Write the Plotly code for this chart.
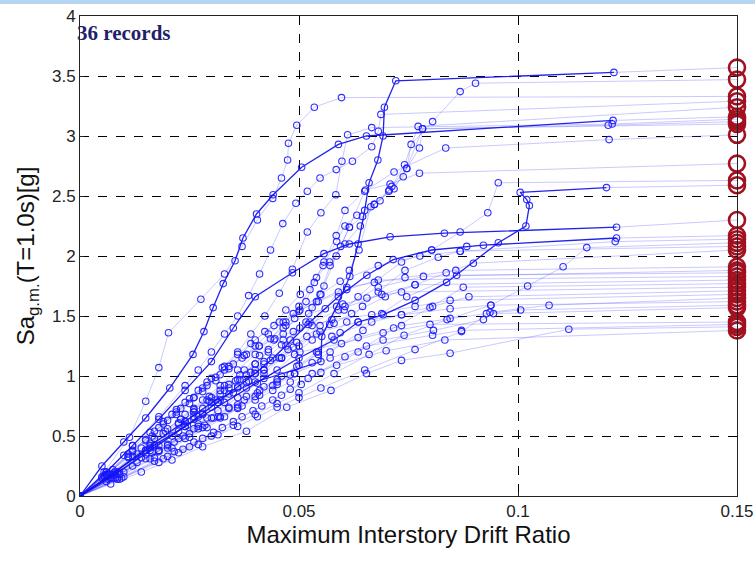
import plotly.graph_objects as go

# ---- IDA curves: maximum interstory drift ratio vs Sa (one list pair per record) ----
drift_01 = [0, 0.008, 0.016, 0.024, 0.031, 0.040, 0.055, 0.0552, 0.0586, 0.0616, 0.0635, 0.065, 0.066, 0.068, 0.0692, 0.0695, 0.0721, 0.1219]
sa_01 = [0, 0.20, 0.42, 0.62, 0.80, 0.95, 1.12, 1.33, 1.58, 1.83, 2.10, 2.38, 2.61, 2.80, 3.00, 3.24, 3.46, 3.53]

drift_02 = [0, 0.006, 0.012, 0.019, 0.026, 0.033, 0.040, 0.0443, 0.047, 0.0503, 0.054, 0.057, 0.0605, 0.064, 0.0672, 0.0717, 0.0746, 0.0756, 0.0805, 0.0868, 0.0903]
sa_02 = [0, 0.18, 0.38, 0.60, 0.82, 1.05, 1.30, 1.42, 1.55, 1.68, 1.82, 1.95, 2.10, 2.25, 2.43, 2.56, 2.73, 2.93, 3.12, 3.37, 3.44]

drift_03 = [0, 0.0055, 0.0113, 0.015, 0.018, 0.0202, 0.0276, 0.033, 0.037, 0.0405, 0.044, 0.046, 0.0474, 0.0476, 0.0495, 0.0535, 0.0597]
sa_03 = [0, 0.20, 0.49, 0.79, 1.07, 1.36, 1.64, 1.85, 2.08, 2.30, 2.48, 2.65, 2.80, 2.94, 3.09, 3.24, 3.32]

drift_04 = [0, 0.006, 0.012, 0.018, 0.024, 0.027, 0.030, 0.033, 0.036, 0.0385, 0.041, 0.0435, 0.0463, 0.0493, 0.0519, 0.0548, 0.0585, 0.0622, 0.0666, 0.0681, 0.0687]
sa_04 = [0, 0.20, 0.42, 0.66, 0.92, 1.05, 1.20, 1.35, 1.50, 1.67, 1.85, 2.05, 2.27, 2.44, 2.54, 2.65, 2.72, 2.79, 2.91, 3.04, 3.18]

drift_05 = [0, 0.008, 0.016, 0.024, 0.028, 0.032, 0.036, 0.040, 0.0435, 0.047, 0.050, 0.0525, 0.0555, 0.0586, 0.0605, 0.0632, 0.0685, 0.0712, 0.0741, 0.0772]
sa_05 = [0, 0.20, 0.44, 0.68, 0.80, 0.92, 1.05, 1.18, 1.31, 1.45, 1.58, 1.72, 1.92, 2.12, 2.25, 2.34, 2.46, 2.58, 2.76, 3.08]

drift_06 = [0, 0.009, 0.018, 0.027, 0.0315, 0.036, 0.040, 0.044, 0.048, 0.0516, 0.0548, 0.0571, 0.0595, 0.0615, 0.0645, 0.0672, 0.0705, 0.0738, 0.0782, 0.1206]
sa_06 = [0, 0.20, 0.42, 0.66, 0.78, 0.90, 1.02, 1.15, 1.30, 1.45, 1.68, 1.92, 2.08, 2.24, 2.33, 2.43, 2.54, 2.66, 3.06, 3.09]

drift_07 = [0, 0.005, 0.010, 0.015, 0.0205, 0.0258, 0.0283, 0.0304, 0.0327, 0.0354, 0.0372, 0.0403, 0.0441, 0.0506, 0.059, 0.0654, 0.1217]
sa_07 = [0, 0.25, 0.45, 0.65, 0.90, 1.18, 1.37, 1.57, 1.77, 1.96, 2.15, 2.35, 2.51, 2.74, 2.93, 3.00, 3.13]

drift_08 = [0, 0.0075, 0.015, 0.022, 0.029, 0.0325, 0.036, 0.039, 0.0422, 0.0455, 0.0485, 0.0519, 0.055, 0.0584, 0.0598, 0.0611, 0.0666, 0.1215]
sa_08 = [0, 0.22, 0.46, 0.70, 0.95, 1.07, 1.20, 1.35, 1.50, 1.69, 1.89, 2.20, 2.36, 2.51, 2.79, 3.01, 3.07, 3.10]

drift_09 = [0, 0.010, 0.020, 0.029, 0.038, 0.042, 0.046, 0.0495, 0.053, 0.056, 0.059, 0.0615, 0.0637, 0.0664, 0.0706, 0.0746, 0.0775, 0.0782]
sa_09 = [0, 0.20, 0.42, 0.65, 0.90, 1.02, 1.15, 1.28, 1.42, 1.56, 1.70, 1.88, 2.05, 2.41, 2.55, 2.73, 2.90, 3.06]

drift_10 = [0, 0.0085, 0.017, 0.026, 0.030, 0.034, 0.038, 0.042, 0.046, 0.0502, 0.053, 0.0557, 0.0585, 0.0615, 0.065, 0.0717, 0.0835, 0.1208]
sa_10 = [0, 0.20, 0.42, 0.66, 0.78, 0.90, 1.01, 1.12, 1.26, 1.40, 1.57, 1.75, 2.00, 2.24, 2.54, 2.70, 2.90, 2.97]

drift_11 = [0, 0.008, 0.016, 0.024, 0.028, 0.032, 0.036, 0.040, 0.043, 0.0464, 0.049, 0.0516, 0.0535, 0.0557, 0.0585, 0.0605, 0.0652, 0.0708, 0.0775]
sa_11 = [0, 0.18, 0.40, 0.62, 0.73, 0.85, 0.97, 1.10, 1.22, 1.35, 1.48, 1.62, 1.78, 1.95, 2.17, 2.38, 2.55, 2.60, 2.69]

drift_12 = [0, 0.009, 0.018, 0.027, 0.0315, 0.036, 0.0405, 0.045, 0.049, 0.053, 0.057, 0.0603, 0.0635, 0.0672, 0.0734, 0.0803, 0.0868, 0.0931, 0.0955]
sa_12 = [0, 0.18, 0.38, 0.60, 0.71, 0.82, 0.94, 1.05, 1.18, 1.30, 1.43, 1.55, 1.66, 1.78, 1.95, 2.05, 2.20, 2.36, 2.61]

drift_13 = [0, 0.007, 0.015, 0.024, 0.033, 0.042, 0.050, 0.058, 0.0635, 0.0692, 0.0765, 0.0837, 0.0955, 0.1018, 0.1026, 0.1020, 0.1005, 0.1202]
sa_13 = [0, 0.18, 0.38, 0.58, 0.78, 0.98, 1.15, 1.30, 1.45, 1.51, 1.63, 1.78, 2.11, 2.25, 2.42, 2.47, 2.53, 2.57]

drift_14 = [0, 0.006, 0.012, 0.018, 0.024, 0.030, 0.035, 0.040, 0.0485, 0.0557, 0.0615, 0.0708, 0.0832, 0.1225]
sa_14 = [0, 0.20, 0.42, 0.64, 0.88, 1.12, 1.40, 1.66, 1.86, 2.02, 2.10, 2.16, 2.19, 2.24]

drift_15 = [0, 0.008, 0.016, 0.024, 0.028, 0.032, 0.036, 0.040, 0.0435, 0.047, 0.0525, 0.059, 0.0655, 0.0715, 0.0803, 0.0883, 0.0921, 0.1225]
sa_15 = [0, 0.18, 0.38, 0.58, 0.69, 0.80, 0.91, 1.02, 1.13, 1.25, 1.45, 1.66, 1.84, 1.97, 2.05, 2.08, 2.09, 2.15]

drift_16 = [0, 0.009, 0.018, 0.027, 0.0315, 0.036, 0.0405, 0.045, 0.0495, 0.054, 0.0575, 0.0609, 0.0645, 0.0681, 0.0742, 0.0818, 0.0868, 0.1222]
sa_16 = [0, 0.18, 0.37, 0.56, 0.66, 0.76, 0.86, 0.97, 1.08, 1.20, 1.33, 1.45, 1.58, 1.70, 1.88, 1.99, 2.04, 2.12]

drift_17 = [0, 0.010, 0.020, 0.025, 0.030, 0.035, 0.040, 0.045, 0.050, 0.058, 0.066, 0.074, 0.0838, 0.0938, 0.1022, 0.1103, 0.1157]
sa_17 = [0, 0.16, 0.33, 0.41, 0.50, 0.59, 0.68, 0.77, 0.86, 1.02, 1.18, 1.34, 1.47, 1.59, 1.75, 1.91, 2.07]

drift_18 = [0, 0.0075, 0.015, 0.0225, 0.026, 0.030, 0.034, 0.0375, 0.041, 0.0443, 0.047, 0.0502, 0.055, 0.0594, 0.0681, 0.0776, 0.0868]
sa_18 = [0, 0.18, 0.38, 0.60, 0.70, 0.82, 0.93, 1.05, 1.17, 1.30, 1.42, 1.55, 1.68, 1.79, 1.92, 2.00, 2.04]

drift_19 = [0, 0.0075, 0.015, 0.0225, 0.026, 0.030, 0.034, 0.038, 0.042, 0.046, 0.050, 0.054, 0.058, 0.062, 0.0697, 0.0765, 0.0836, 0.0898]
sa_19 = [0, 0.17, 0.35, 0.54, 0.64, 0.74, 0.85, 0.95, 1.05, 1.15, 1.25, 1.35, 1.44, 1.52, 1.66, 1.76, 1.86, 1.94]

drift_20 = [0, 0.0055, 0.011, 0.0165, 0.022, 0.025, 0.028, 0.031, 0.034, 0.037, 0.040, 0.043, 0.0464, 0.050, 0.054, 0.0609, 0.0742, 0.0858]
sa_20 = [0, 0.16, 0.33, 0.50, 0.68, 0.77, 0.87, 0.96, 1.06, 1.15, 1.25, 1.35, 1.45, 1.54, 1.62, 1.74, 1.82, 1.88]

drift_21 = [0, 0.007, 0.014, 0.021, 0.0245, 0.028, 0.0315, 0.035, 0.0385, 0.042, 0.0455, 0.0487, 0.0518, 0.0548, 0.0605, 0.0681, 0.0784]
sa_21 = [0, 0.15, 0.32, 0.50, 0.59, 0.68, 0.78, 0.86, 0.96, 1.05, 1.15, 1.24, 1.33, 1.42, 1.58, 1.74, 1.83]

drift_22 = [0, 0.0085, 0.017, 0.021, 0.025, 0.029, 0.033, 0.037, 0.041, 0.045, 0.049, 0.053, 0.0571, 0.0646, 0.0689, 0.0746, 0.086]
sa_22 = [0, 0.15, 0.32, 0.40, 0.49, 0.57, 0.66, 0.75, 0.84, 0.93, 1.02, 1.11, 1.20, 1.38, 1.52, 1.66, 1.84]

drift_23 = [0, 0.006, 0.012, 0.015, 0.018, 0.021, 0.024, 0.027, 0.030, 0.033, 0.036, 0.039, 0.0422, 0.0455, 0.0487, 0.0544, 0.0609, 0.0681]
sa_23 = [0, 0.18, 0.37, 0.47, 0.57, 0.68, 0.78, 0.88, 0.98, 1.08, 1.18, 1.27, 1.37, 1.45, 1.52, 1.62, 1.72, 1.80]

drift_24 = [0, 0.0065, 0.013, 0.0195, 0.023, 0.026, 0.0295, 0.033, 0.0365, 0.040, 0.043, 0.0464, 0.0521, 0.059, 0.0689, 0.0765]
sa_24 = [0, 0.17, 0.35, 0.54, 0.64, 0.73, 0.83, 0.92, 1.01, 1.10, 1.20, 1.30, 1.43, 1.55, 1.68, 1.76]

drift_25 = [0, 0.0095, 0.019, 0.0235, 0.028, 0.0325, 0.037, 0.0415, 0.046, 0.0505, 0.055, 0.0635, 0.0716, 0.0799, 0.0875]
sa_25 = [0, 0.15, 0.31, 0.39, 0.48, 0.57, 0.66, 0.75, 0.84, 0.93, 1.03, 1.20, 1.40, 1.57, 1.74]

drift_26 = [0, 0.005, 0.010, 0.016, 0.019, 0.022, 0.025, 0.028, 0.031, 0.034, 0.0375, 0.0409, 0.0464, 0.0522, 0.060, 0.0655, 0.0734]
sa_26 = [0, 0.16, 0.34, 0.53, 0.62, 0.72, 0.81, 0.90, 0.99, 1.08, 1.17, 1.25, 1.40, 1.52, 1.60, 1.65, 1.70]

drift_27 = [0, 0.008, 0.016, 0.020, 0.024, 0.028, 0.032, 0.036, 0.040, 0.044, 0.048, 0.0544, 0.0594, 0.0666, 0.0734, 0.0805, 0.0888]
sa_27 = [0, 0.15, 0.31, 0.40, 0.48, 0.57, 0.65, 0.74, 0.83, 0.92, 1.01, 1.20, 1.36, 1.45, 1.51, 1.58, 1.66]

drift_28 = [0, 0.0055, 0.011, 0.017, 0.020, 0.023, 0.026, 0.029, 0.032, 0.035, 0.038, 0.0409, 0.0445, 0.0487, 0.0575, 0.0666, 0.0765, 0.0845]
sa_28 = [0, 0.17, 0.35, 0.54, 0.63, 0.73, 0.82, 0.92, 1.01, 1.10, 1.18, 1.25, 1.31, 1.37, 1.47, 1.51, 1.58, 1.63]

drift_29 = [0, 0.009, 0.018, 0.0225, 0.027, 0.0315, 0.036, 0.0405, 0.045, 0.050, 0.055, 0.065, 0.0765, 0.0871, 0.0936, 0.1071]
sa_29 = [0, 0.14, 0.28, 0.36, 0.43, 0.51, 0.58, 0.66, 0.74, 0.82, 0.90, 1.05, 1.22, 1.37, 1.53, 1.59]

drift_30 = [0, 0.006, 0.012, 0.019, 0.0225, 0.026, 0.0295, 0.033, 0.0365, 0.040, 0.0475, 0.0548, 0.0635, 0.0734, 0.0845, 0.0938]
sa_30 = [0, 0.16, 0.33, 0.52, 0.61, 0.70, 0.79, 0.88, 0.97, 1.05, 1.22, 1.37, 1.45, 1.51, 1.56, 1.59]

drift_31 = [0, 0.0075, 0.015, 0.0225, 0.026, 0.030, 0.034, 0.038, 0.042, 0.046, 0.050, 0.0544, 0.0635, 0.0734, 0.0845, 0.0928, 0.1006]
sa_31 = [0, 0.15, 0.31, 0.48, 0.56, 0.65, 0.74, 0.83, 0.91, 1.00, 1.09, 1.18, 1.32, 1.42, 1.48, 1.52, 1.55]

drift_32 = [0, 0.0085, 0.017, 0.0215, 0.026, 0.0305, 0.035, 0.0395, 0.044, 0.048, 0.0521, 0.0605, 0.0692, 0.0807, 0.0921, 0.0944]
sa_32 = [0, 0.14, 0.29, 0.37, 0.45, 0.53, 0.62, 0.71, 0.80, 0.89, 0.98, 1.16, 1.30, 1.38, 1.47, 1.52]

drift_33 = [0, 0.005, 0.011, 0.014, 0.017, 0.020, 0.023, 0.026, 0.029, 0.032, 0.0355, 0.039, 0.042, 0.046, 0.0502, 0.0597, 0.0692, 0.0799]
sa_33 = [0, 0.15, 0.32, 0.40, 0.48, 0.56, 0.64, 0.72, 0.80, 0.88, 0.96, 1.03, 1.10, 1.15, 1.20, 1.27, 1.36, 1.43]

drift_34 = [0, 0.0065, 0.013, 0.0165, 0.020, 0.0235, 0.027, 0.0305, 0.034, 0.0375, 0.041, 0.045, 0.049, 0.0571, 0.0654, 0.0805, 0.0871]
sa_34 = [0, 0.14, 0.28, 0.36, 0.43, 0.50, 0.58, 0.65, 0.73, 0.80, 0.88, 0.95, 1.02, 1.15, 1.25, 1.34, 1.38]

drift_35 = [0, 0.007, 0.014, 0.021, 0.028, 0.038, 0.0472, 0.0573, 0.0654, 0.0734, 0.0845, 0.1116]
sa_35 = [0, 0.10, 0.20, 0.30, 0.41, 0.54, 0.74, 0.88, 1.02, 1.13, 1.19, 1.39]

drift_36 = [0, 0.006, 0.012, 0.018, 0.0215, 0.025, 0.0285, 0.032, 0.036, 0.040, 0.044, 0.048, 0.053, 0.0586, 0.0699, 0.0833]
sa_36 = [0, 0.12, 0.25, 0.38, 0.45, 0.52, 0.59, 0.66, 0.73, 0.80, 0.88, 0.95, 1.02, 1.09, 1.21, 1.30]

# Collapse (flatline) intensity of each record, same order as the curves
collapse_sa = [3.57, 3.47, 3.33, 3.29, 3.24, 3.12, 3.16, 3.14, 3.10, 3.01,
               2.77, 2.63, 2.59, 2.30, 2.17, 2.14, 2.11, 2.08, 2.05, 1.91,
               1.88, 1.86, 1.83, 1.80, 1.77, 1.74, 1.71, 1.68, 1.65, 1.62,
               1.59, 1.57, 1.45, 1.43, 1.41, 1.38]

# Records drawn with a heavier line
dark_records = {1, 7, 13, 14, 15}

x_ticks = [0, 0.05, 0.1, 0.15]
x_ticktext = ["0", "0.05", "0.1", "0.15"]
y_ticks = [0, 0.5, 1, 1.5, 2, 2.5, 3, 3.5, 4]
y_ticktext = ["0", "0.5", "1", "1.5", "2", "2.5", "3", "3.5", "4"]

DRIFT_LIMIT = 0.15

records = [
    (drift_01, sa_01), (drift_02, sa_02), (drift_03, sa_03), (drift_04, sa_04),
    (drift_05, sa_05), (drift_06, sa_06), (drift_07, sa_07), (drift_08, sa_08),
    (drift_09, sa_09), (drift_10, sa_10), (drift_11, sa_11), (drift_12, sa_12),
    (drift_13, sa_13), (drift_14, sa_14), (drift_15, sa_15), (drift_16, sa_16),
    (drift_17, sa_17), (drift_18, sa_18), (drift_19, sa_19), (drift_20, sa_20),
    (drift_21, sa_21), (drift_22, sa_22), (drift_23, sa_23), (drift_24, sa_24),
    (drift_25, sa_25), (drift_26, sa_26), (drift_27, sa_27), (drift_28, sa_28),
    (drift_29, sa_29), (drift_30, sa_30), (drift_31, sa_31), (drift_32, sa_32),
    (drift_33, sa_33), (drift_34, sa_34), (drift_35, sa_35), (drift_36, sa_36),
]
for d, s in records:
    assert len(d) == len(s)

LIGHT_LINE = "rgba(60,60,255,0.28)"
DARK_LINE = "rgba(15,15,235,0.92)"
MARKER_BLUE = "rgba(25,25,255,0.9)"

fig = go.Figure()

# Flatlines from the last converged run to the collapse level
for (d, s), sc in zip(records, collapse_sa):
    fig.add_trace(go.Scatter(
        x=[d[-1], DRIFT_LIMIT], y=[s[-1], sc], mode="lines",
        line=dict(color=LIGHT_LINE, width=1), hoverinfo="skip", showlegend=False,
    ))

# Light curves first, heavy ones on top
order = [i for i in range(1, 37) if i not in dark_records] + sorted(dark_records)
for i in order:
    d, s = records[i - 1]
    dark = i in dark_records
    fig.add_trace(go.Scatter(
        x=d, y=s, mode="lines+markers",
        line=dict(color=DARK_LINE if dark else LIGHT_LINE, width=1.3 if dark else 1),
        marker=dict(symbol="circle-open", size=6.5, color=MARKER_BLUE, line=dict(width=1.1)),
        showlegend=False, name=f"record {i}",
    ))

# Collapse points
fig.add_trace(go.Scatter(
    x=[DRIFT_LIMIT] * len(collapse_sa), y=collapse_sa, mode="markers",
    marker=dict(symbol="circle-open", size=16, color="#a3101f", line=dict(width=2.6)),
    cliponaxis=False, showlegend=False, name="collapse",
))

axis_font = dict(family="Liberation Sans, Arial, sans-serif", size=17, color="#222222")
title_font = dict(family="Liberation Sans, Arial, sans-serif", size=24, color="#111111")

fig.update_layout(
    width=755, height=573, autosize=False,
    margin=dict(l=80, r=18, t=16, b=77),
    paper_bgcolor="white", plot_bgcolor="white",
    xaxis=dict(
        range=[0, 0.15], tickvals=x_ticks, ticktext=x_ticktext, automargin=False,
        showgrid=True, gridcolor="black", griddash="dash", gridwidth=1,
        showline=True, linecolor="#222", linewidth=1, mirror=True,
        ticks="inside", ticklen=4, tickcolor="#222", zeroline=False,
        tickfont=axis_font,
        title=dict(text="Maximum Interstory Drift Ratio", font=title_font, standoff=2),
    ),
    yaxis=dict(
        range=[0, 4], tickvals=y_ticks, ticktext=y_ticktext, automargin=False,
        showgrid=True, gridcolor="black", griddash="dash", gridwidth=1,
        showline=True, linecolor="#222", linewidth=1, mirror=True,
        ticks="inside", ticklen=4, tickcolor="#222", zeroline=False,
        tickfont=axis_font,
        title=dict(text="Sa<sub>g.m.</sub>(T=1.0s)[g]", font=title_font, standoff=10),
    ),
    annotations=[dict(
        text="<b>36 records</b>", x=-0.007, y=0.965, xref="paper", yref="paper",
        xanchor="left", yanchor="middle", showarrow=False,
        font=dict(family="Liberation Serif, Times New Roman, serif", size=21, color="#1f1f6e"),
    )],
    shapes=[dict(
        type="rect", xref="paper", yref="paper", x0=-0.2, x1=1.1, y0=1.025, y1=1.04,
        fillcolor="#b6d5f3", line=dict(width=0), layer="above",
    )],
)

fig.write_html("out.html")
